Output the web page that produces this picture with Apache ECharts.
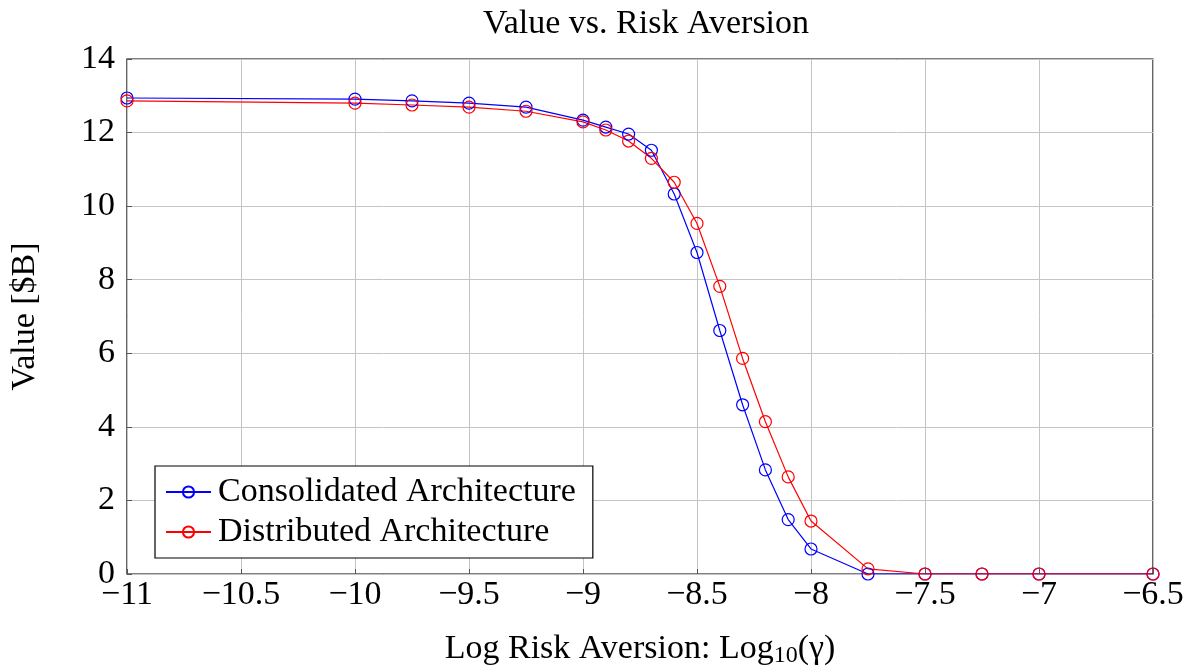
<!DOCTYPE html>
<html><head><meta charset="utf-8">
<script src="https://cdn.jsdelivr.net/npm/echarts@6/dist/echarts.min.js"></script>
<style>html,body{margin:0;padding:0;background:#fff}#c{width:1194px;height:666px}</style>
</head><body><div id="c"></div>
<script>
const xValues = [-11, -10, -9.75, -9.5, -9.25, -9, -8.9, -8.8, -8.7, -8.6, -8.5, -8.4, -8.3, -8.2, -8.1, -8, -7.75, -7.5, -7.25, -7, -6.5];
const consolidated = [12.94, 12.91, 12.86, 12.80, 12.69, 12.34, 12.15, 11.96, 11.52, 10.33, 8.74, 6.62, 4.60, 2.83, 1.48, 0.68, 0, 0, 0, 0, 0];
const distributed = [12.86, 12.80, 12.75, 12.69, 12.58, 12.29, 12.07, 11.77, 11.30, 10.65, 9.53, 7.82, 5.86, 4.14, 2.64, 1.44, 0.14, 0, 0, 0, 0];
const seriesNames = ['Consolidated Architecture', 'Distributed Architecture'];
const titleText = 'Value vs. Risk Aversion';
const yTitle = 'Value [$B]';

const font = '"Liberation Serif", "DejaVu Serif", serif';
const FS = 34;
function fmt(v){ const s = String(Math.abs(v)); return v < 0 ? '\u2212' + s : s; }
const chart = echarts.init(document.getElementById('c'));
const pair = arr => xValues.map((x,i)=>[x, arr[i]]);
function mkSeries(name, arr, col){
  return { name, type: 'line', data: pair(arr),
    symbol: 'circle', symbolSize: 12,
    lineStyle: { width: 1.2, color: col },
    itemStyle: { color: 'rgba(255,255,255,0)', borderColor: col, borderWidth: 1.2 } };
}
chart.setOption({
  backgroundColor: '#fff',
  animation: false,
  title: { text: titleText, left: 641, top: 2, textAlign: 'center',
    textStyle: { fontFamily: font, fontSize: FS, fontWeight: 'normal', color: '#000' } },
  grid: { left: 127, right: 41, top: 59, bottom: 92, show: true, borderColor: '#000', borderWidth: 1.2,
    containLabel: false, outerBoundsMode: 'none' },
  xAxis: {
    type: 'value', min: -11, max: -6.5, interval: 0.5,
    axisLine: { show: false },
    axisTick: { show: true, inside: true, length: 5, lineStyle: { color: '#555' } },
    splitLine: { show: true, lineStyle: { color: '#c4c4c4', width: 1 } },
    axisLabel: { formatter: fmt, fontFamily: font, fontSize: FS, color: '#000', margin: 4 },
    name: 'Log Risk Aversion: Log{sub|10}(γ)',
    nameLocation: 'middle', nameGap: 56,
    nameTextStyle: { fontFamily: font, fontSize: FS, color: '#000',
      rich: { sub: { fontFamily: font, fontSize: 24, color: '#000', verticalAlign: 'bottom', padding: [14,0,0,0] } } }
  },
  yAxis: {
    type: 'value', min: 0, max: 14, interval: 2,
    axisLine: { show: false },
    axisTick: { show: true, inside: true, length: 5, lineStyle: { color: '#555' } },
    splitLine: { show: true, lineStyle: { color: '#c4c4c4', width: 1 } },
    axisLabel: { formatter: fmt, fontFamily: font, fontSize: FS, color: '#000', margin: 12 },
    name: yTitle, nameLocation: 'middle', nameGap: 85, nameRotate: 90,
    nameTextStyle: { fontFamily: font, fontSize: FS, color: '#000' }
  },
  legend: {
    left: 155, top: 466, orient: 'vertical',
    borderColor: '#000', borderWidth: 1.2, backgroundColor: '#fff', borderRadius: 0,
    padding: [9, 17, 9, 10], itemGap: 6, itemWidth: 45, itemHeight: 14,
    textStyle: { fontFamily: font, fontSize: FS, color: '#000', padding: [0,0,0,2] },
    data: seriesNames
  },
  series: [
    mkSeries(seriesNames[0], consolidated, '#0000ff'),
    mkSeries(seriesNames[1], distributed, '#ff0000')
  ]
});
</script></body></html>
